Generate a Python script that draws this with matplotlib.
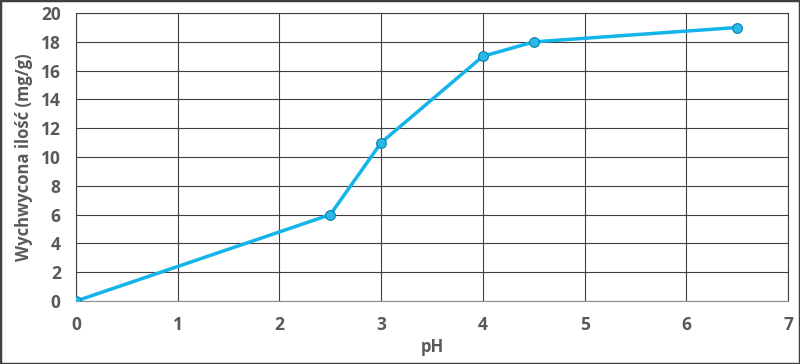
import numpy as np
import matplotlib.pyplot as plt
from matplotlib.patches import Rectangle

# dane
ph = [0, 2.5, 3, 4, 4.5, 6.5]
ilosc = [0, 6, 11, 17, 18, 19]
x_ticks = [0, 1, 2, 3, 4, 5, 6, 7]
y_ticks = [0, 2, 4, 6, 8, 10, 12, 14, 16, 18, 20]

plt.rcParams['font.family'] = ['Open Sans', 'DejaVu Sans']

fig = plt.figure(figsize=(8, 3.64), dpi=100)
ax = fig.add_axes([0.095, 0.173, 0.89, 0.791])

ax.plot(ph, ilosc, color='#13b4ea', lw=2.5, zorder=3,
        marker='o', ms=7, mfc='#29b8e8', mec='#0a7fa8', mew=0.8)

ax.set_xlim(0, 7)
ax.set_ylim(0, 20)
ax.set_xticks(x_ticks)
ax.set_yticks(y_ticks)
ax.grid(True, color='#404040', lw=0.8)
ax.set_axisbelow(True)
for s in ax.spines.values():
    s.set_color('#404040')
    s.set_linewidth(0.8)
ax.spines['bottom'].set_color('#909090')
ax.tick_params(axis='x', length=0, pad=11, labelsize=12.5, labelcolor='#595959')
ax.tick_params(axis='y', length=0, pad=11, labelsize=12.5, labelcolor='#595959')
for lab in ax.get_xticklabels() + ax.get_yticklabels():
    lab.set_fontweight('bold')
ax.set_xlabel('pH', fontsize=12, fontweight='bold', color='#595959', labelpad=3)
ax.set_ylabel('Wychwycona ilość (mg/g)', fontsize=12, fontweight='bold',
              color='#595959', labelpad=6)

fig.patches.append(Rectangle((0, 0), 1, 1, transform=fig.transFigure,
                             fill=False, ec='#404040', lw=2.5))

fig.savefig('out.png', dpi=100)
